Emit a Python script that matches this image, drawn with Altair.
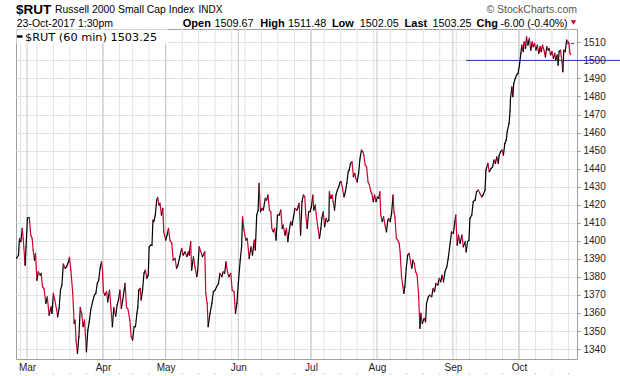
import altair as alt
import pandas as pd

# ---- data: hourly bar number since 1-Mar-2017 open (7 bars per trading day), close price
BAR = [-22, -18, -16, -13, -10, -8, -4, -2, 1, 5, 8, 11, 13, 16, 18, 21, 24, 28, 30, 33,
       36, 40, 43, 47, 51, 53, 56, 59, 63, 65, 68, 71, 74, 77, 81, 84, 88, 90, 93, 97,
       100, 102, 104, 107, 110, 113, 116, 119, 122, 126, 129, 132, 135, 139, 143, 146, 149, 152, 155, 158,
       160, 162, 165, 169, 171, 175, 178, 181, 184, 188, 191, 194, 197, 200, 203, 206, 208, 211, 214, 218,
       221, 224, 227, 230, 233, 235, 237, 240, 242, 245, 248, 251, 254, 257, 259, 262, 265, 267, 269, 272,
       275, 277, 280, 282, 285, 288, 290, 294, 297, 300, 303, 307, 310, 314, 317, 320, 324, 328, 331, 335,
       339, 342, 344, 347, 349, 353, 356, 360, 362, 365, 372, 377, 379, 382, 384, 388, 392, 395, 399, 402,
       406, 409, 413, 416, 419, 422, 425, 428, 432, 435, 439, 442, 445, 448, 452, 455, 457, 460, 464, 467,
       471, 475, 478, 482, 484, 487, 490, 492, 495, 498, 501, 505, 508, 511, 514, 517, 519, 522, 525, 528,
       531, 535, 538, 541, 543, 547, 550, 553, 555, 559, 562, 565, 568, 572, 575, 577, 580, 583, 586, 589,
       591, 594, 597, 600, 603, 606, 608, 611, 614, 617, 620, 623, 625, 628, 631, 634, 637, 640, 641, 644,
       647, 649, 652, 655, 658, 661, 664, 666, 669, 672, 675, 678, 681, 683, 686, 689, 692, 695, 697, 700,
       703, 706, 709, 712, 714, 717, 720, 723, 726, 729, 731, 734, 737, 740, 743, 746, 748, 750, 753, 756,
       759, 762, 765, 767, 770, 773, 776, 778, 780, 783, 786, 789, 791, 794, 797, 799, 801, 804, 807, 810,
       813, 816, 818, 821, 824, 827, 830, 833, 835, 838, 842, 845, 847, 851, 854, 858, 861, 864, 867, 871,
       874, 877, 880, 883, 886, 890, 893, 897, 900, 904, 907, 909, 912, 915, 918, 922, 925, 929, 931, 934,
       937, 939, 943, 946, 950, 953, 957, 960, 964, 967, 971, 973, 977, 980, 984, 987, 990, 993, 996, 999,
       1001, 1004, 1007, 1010, 1013, 1016, 1018, 1022, 1024, 1025, 1028, 1030, 1032, 1035, 1038, 1041, 1044, 1047, 1049, 1052,
       1054, 1057, 1059, 1062, 1065, 1068, 1071, 1073, 1076, 1079, 1082, 1085, 1088, 1090, 1093, 1096, 1099, 1102, 1105, 1107,
       1110, 1113, 1116, 1119, 1121, 1124, 1126, 1128, 1131, 1134, 1136, 1138, 1141, 1144, 1147, 1149, 1151, 1153]

PRICE = [1390.3, 1392.0, 1401.3, 1399.5, 1406.9, 1401.3, 1386.5, 1396.7, 1412.8, 1412.8,
         1403.2, 1401.3, 1394.9, 1389.3, 1393.0, 1378.2, 1382.8, 1381.0, 1382.0, 1374.5,
         1373.6, 1365.3, 1369.0, 1358.8, 1363.4, 1359.8, 1370.9, 1367.2, 1361.6, 1357.9,
         1362.5, 1372.7, 1375.5, 1387.1, 1384.8, 1385.6, 1388.4, 1390.8, 1383.8, 1370.9,
         1354.2, 1356.1, 1345.0, 1337.6, 1346.9, 1363.1, 1359.8, 1352.4, 1356.1, 1338.5,
         1350.5, 1355.1, 1361.6, 1366.2, 1369.9, 1370.9, 1376.4, 1378.2, 1384.8, 1388.4,
         1383.8, 1371.8, 1369.9, 1371.8, 1366.2, 1372.7, 1362.5, 1352.4, 1363.1, 1358.3,
         1364.4, 1367.2, 1372.7, 1362.5, 1367.2, 1372.7, 1376.4, 1363.1, 1362.2, 1356.1,
         1346.9, 1345.0, 1352.4, 1352.4, 1359.8, 1363.4, 1372.7, 1373.6, 1367.2, 1372.7,
         1382.0, 1383.8, 1379.2, 1381.0, 1396.7, 1397.6, 1397.6, 1411.5, 1410.6, 1414.3,
         1422.6, 1424.1, 1419.8, 1420.8, 1414.3, 1418.0, 1405.0, 1400.4, 1403.2, 1406.9,
         1400.4, 1398.6, 1389.3, 1390.3, 1384.8, 1386.5, 1391.2, 1395.8, 1392.1, 1393.9,
         1391.2, 1393.9, 1392.1, 1399.5, 1383.8, 1391.2, 1385.6, 1380.1, 1383.8, 1396.7,
         1391.2, 1393.9, 1370.9, 1365.3, 1352.4, 1359.8, 1365.3, 1371.8, 1372.7, 1374.5,
         1376.4, 1382.0, 1380.1, 1382.8, 1382.0, 1388.4, 1382.8, 1380.1, 1382.0, 1372.7,
         1371.8, 1359.8, 1365.3, 1376.4, 1389.3, 1396.7, 1413.3, 1405.9, 1400.4, 1401.3,
         1390.3, 1396.7, 1392.1, 1400.4, 1394.9, 1414.3, 1417.0, 1431.8, 1416.1, 1418.0,
         1417.0, 1423.5, 1422.6, 1425.4, 1417.0, 1416.1, 1406.9, 1405.0, 1406.9, 1400.4,
         1414.3, 1414.3, 1417.0, 1406.9, 1408.7, 1403.2, 1406.9, 1399.5, 1404.1, 1410.6,
         1408.7, 1413.3, 1418.0, 1417.0, 1418.9, 1420.8, 1403.2, 1421.7, 1425.4, 1424.4,
         1414.3, 1406.9, 1416.1, 1416.1, 1418.9, 1425.4, 1417.0, 1419.8, 1412.4, 1406.9,
         1401.3, 1406.9, 1412.4, 1416.1, 1407.8, 1412.4, 1410.6, 1411.5, 1427.2, 1423.5,
         1425.4, 1421.7, 1417.0, 1425.4, 1428.1, 1430.0, 1432.7, 1432.7, 1429.1, 1424.4,
         1427.2, 1431.8, 1438.3, 1439.2, 1442.9, 1443.8, 1435.5, 1437.4, 1434.6, 1432.7,
         1437.4, 1445.7, 1450.3, 1449.4, 1447.5, 1442.0, 1441.0, 1432.7, 1430.9, 1427.2,
         1426.3, 1421.7, 1425.4, 1421.7, 1424.4, 1423.5, 1427.2, 1414.3, 1410.6, 1413.3,
         1408.7, 1405.0, 1411.5, 1412.4, 1410.6, 1415.2, 1425.4, 1416.1, 1413.3, 1401.3,
         1400.4, 1398.6, 1393.9, 1380.1, 1374.5, 1370.9, 1374.5, 1384.8, 1392.1, 1393.0,
         1388.4, 1384.8, 1389.3, 1387.5, 1382.8, 1381.0, 1370.9, 1351.5, 1359.8, 1354.2,
         1357.0, 1355.1, 1365.3, 1369.0, 1369.9, 1369.0, 1373.6, 1371.8, 1376.4, 1375.5,
         1379.2, 1377.3, 1381.0, 1377.3, 1382.8, 1385.6, 1390.3, 1398.6, 1405.0, 1404.1,
         1410.6, 1414.3, 1397.6, 1403.2, 1398.6, 1403.2, 1396.7, 1399.5, 1393.9, 1399.5,
         1400.4, 1412.4, 1414.3, 1421.7, 1422.6, 1427.2, 1428.1, 1426.3, 1424.4, 1425.4,
         1428.1, 1439.2, 1442.9, 1438.3, 1440.1, 1441.0, 1444.8, 1442.9, 1446.6, 1442.9,
         1447.5, 1449.4, 1450.3, 1447.5, 1454.0, 1455.8, 1460.4, 1465.1, 1471.5, 1479.0,
         1485.4, 1479.9, 1487.3, 1490.0, 1491.9, 1492.8, 1497.4, 1503.9, 1508.5, 1504.8,
         1510.3, 1506.7, 1513.1, 1508.5, 1512.2, 1505.7, 1510.3, 1507.6, 1509.4, 1505.7,
         1508.5, 1503.9, 1507.6, 1504.8, 1508.5, 1505.7, 1502.0, 1507.6, 1505.7, 1506.7,
         1503.0, 1504.8, 1501.1, 1503.9, 1500.2, 1503.0, 1497.4, 1504.8, 1505.7, 1499.3,
         1493.7, 1505.7, 1504.8, 1511.3, 1510.3, 1509.4, 1503.9, 1503.25]

MONTH_BARS = [0, 161, 294, 448, 602, 742, 903, 1043]
MONTH_NAMES = ["Mar", "Apr", "May", "Jun", "Jul", "Aug", "Sep", "Oct"]
WEEK_BARS = [-14, 21, 56, 91, 126, 161, 196, 224, 259, 294, 329, 364, 399, 434, 462, 497, 532,
             567, 602, 630, 665, 700, 735, 770, 805, 840, 875, 910, 938, 973, 1008, 1043, 1078,
             1113, 1148]
Y_TICKS = [1340, 1350, 1360, 1370, 1380, 1390, 1400, 1410, 1420, 1430, 1440, 1450, 1460,
           1470, 1480, 1490, 1500, 1510]
HLINE_LEVEL = 1500
HLINE_START_BAR = 931
PREV_LEVEL = 1509.3
PREV_BARS = [1143, 1164]

W, H = 561, 330
LEFT, TOP = 16, 29
FONT = "Arial, 'Liberation Sans', sans-serif"
RED = "#cc0033"

df = pd.DataFrame({"bar": BAR, "price": PRICE})
one = pd.DataFrame({"k": [0]})

xscale = alt.Scale(domain=[-23.3, 1166], nice=False, zero=False)
yscale = alt.Scale(domain=[1334.5, 1517.4], nice=False, zero=False)

label_expr = " : ".join(
    f"datum.value == {b} ? '{n}'" for b, n in zip(MONTH_BARS, MONTH_NAMES)
) + " : ''"

x_axis = alt.Axis(values=MONTH_BARS, labelExpr=label_expr, grid=False, ticks=False,
                  domain=False, title=None, labelFontSize=10, labelFont=FONT,
                  labelColor="#222", labelPadding=3, labelFlush=False, labelOverlap=False)
y_axis = alt.Axis(orient="right", values=Y_TICKS, grid=True, gridColor="#e2e2e2",
                  ticks=True, tickSize=3, tickColor="#999", domain=False, title=None,
                  labelFontSize=10, labelFont=FONT, labelColor="#222", labelPadding=3,
                  format="d")

X = lambda f: alt.X(f, scale=xscale, axis=x_axis)
Y = lambda f: alt.Y(f, scale=yscale, axis=y_axis)

week_grid = alt.Chart(pd.DataFrame({"bar": WEEK_BARS})).mark_rule(
    color="#e2e2e2", strokeWidth=1).encode(x=X("bar:Q"))
week_dots = alt.Chart(pd.DataFrame({"bar": WEEK_BARS})).mark_rule(
    color="#c8c8c8", strokeWidth=1).encode(
    x=X("bar:Q"), y=alt.value(H + 14), y2=alt.value(H + 15.5))
month_grid = alt.Chart(pd.DataFrame({"bar": MONTH_BARS})).mark_rule(
    color="#c4c4c4", strokeWidth=1).encode(x=X("bar:Q"))

hline = alt.Chart(one).mark_rule(color="#2633a8", strokeWidth=1).encode(
    x=alt.X(datum=HLINE_START_BAR, scale=xscale, axis=x_axis),
    x2=alt.value(620 - LEFT),
    y=alt.Y(datum=HLINE_LEVEL, scale=yscale, axis=y_axis))

prev_line = alt.Chart(one).mark_rule(color="#2633a8", strokeWidth=1, strokeDash=[3, 2]).encode(
    x=alt.X(datum=PREV_BARS[0], scale=xscale, axis=x_axis),
    x2=alt.X2(datum=PREV_BARS[1]),
    y=alt.Y(datum=PREV_LEVEL, scale=yscale, axis=y_axis))

price = alt.Chart(df).transform_window(
    bar2="lead(bar)", price2="lead(price)", sort=[alt.SortField("bar")]
).transform_filter("datum.bar2 != null").transform_calculate(
    dir="datum.price2 >= datum.price ? 'up' : 'down'"
).mark_rule(strokeWidth=1.2, strokeCap="round").encode(
    x=X("bar:Q"), x2="bar2:Q", y=Y("price:Q"), y2="price2:Q",
    color=alt.Color("dir:N", scale=alt.Scale(domain=["up", "down"], range=["#000000", RED]),
                    legend=None))

legend_box = alt.Chart(one).mark_rect(fill="white", stroke=None).encode(
    x=alt.value(0.5), x2=alt.value(152), y=alt.value(0.5), y2=alt.value(14.5))
legend_dash = alt.Chart(one).mark_rule(color="black", strokeWidth=2.5).encode(
    x=alt.value(1), x2=alt.value(6.5), y=alt.value(7.5))


def txt(text, x, y, size=11, weight="normal", color="#000", align="left",
        font=FONT, baseline="alphabetic"):
    return alt.Chart(one).mark_text(
        text=text, align=align, baseline=baseline, fontSize=size, fontWeight=weight,
        font=font, color=color).encode(x=alt.value(x - LEFT), y=alt.value(y - TOP))


texts = [
    txt("$RUT (60 min) 1503.25", 25, 40.5, size=11.3, font="'DejaVu Sans', Verdana, sans-serif"),
    txt("$RUT", 16, 13.5, size=13.5, weight="bold"),
    txt("Russell 2000 Small Cap Index", 55, 13, size=10.4),
    txt("INDX", 198.5, 13, size=10),
    txt("\u00a9 StockCharts.com", 577, 13, size=10.5, color="#555", align="right"),
    txt("23-Oct-2017 1:30pm", 16.7, 26.5, size=10.5),
    txt("Open", 182.8, 26.5, weight="bold"),
    txt("1509.67", 214.6, 26.5, size=10.8),
    txt("High", 260.3, 26.5, weight="bold"),
    txt("1511.48", 288, 26.5, size=10.8),
    txt("Low", 331.9, 26.5, weight="bold"),
    txt("1502.05", 359.7, 26.5, size=10.8),
    txt("Last", 404.6, 26.5, weight="bold"),
    txt("1503.25", 432.4, 26.5, size=10.8),
    txt("Chg", 476.5, 26.5, weight="bold"),
    txt("-6.00 (-0.40%)", 500.5, 26.5, size=10.5),
]
tri = alt.Chart(one).mark_point(shape="triangle-down", filled=True, size=30, color=RED,
                                opacity=1).encode(
    x=alt.value(573.5 - LEFT), y=alt.value(22.5 - TOP))

chart = alt.layer(
    week_grid, week_dots, month_grid, hline, price, prev_line, legend_box, legend_dash,
    *texts, tri
).properties(
    width=W, height=H,
    padding={"left": LEFT, "top": TOP, "right": 620 - LEFT - W, "bottom": 376 - TOP - H},
    autosize=alt.AutoSizeParams(type="none"),
    background="white",
).configure_view(stroke="#a0a0a0", strokeWidth=1)

chart.save("out.html", embed_options={"renderer": "svg", "actions": False})
